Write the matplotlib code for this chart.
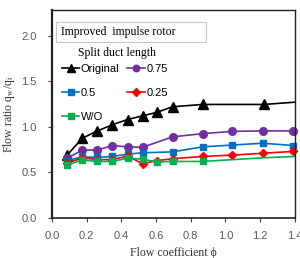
import matplotlib
matplotlib.use("Agg")
import matplotlib.pyplot as plt
from matplotlib.patches import Rectangle

# ---- data ----
x_orig = [0.088, 0.175, 0.257, 0.344, 0.436, 0.522, 0.607, 0.695, 0.868, 1.221, 1.40]
y_orig = [0.69, 0.875, 0.95, 1.02, 1.08, 1.12, 1.16, 1.22, 1.245, 1.245, 1.27]

x_075 = [0.088, 0.175, 0.262, 0.349, 0.436, 0.522, 0.695, 0.868, 1.040, 1.215, 1.39]
y_075 = [0.655, 0.745, 0.745, 0.795, 0.78, 0.775, 0.89, 0.925, 0.95, 0.955, 0.955]

x_05 = [0.088, 0.175, 0.262, 0.349, 0.436, 0.522, 0.695, 0.868, 1.040, 1.215, 1.39]
y_05 = [0.63, 0.67, 0.665, 0.675, 0.70, 0.715, 0.725, 0.78, 0.80, 0.82, 0.795]

x_025 = [0.088, 0.175, 0.262, 0.349, 0.436, 0.522, 0.607, 0.695, 0.868, 1.040, 1.215, 1.39]
y_025 = [0.60, 0.66, 0.64, 0.64, 0.68, 0.595, 0.63, 0.65, 0.675, 0.69, 0.71, 0.73]

x_wo = [0.088, 0.175, 0.262, 0.349, 0.436, 0.522, 0.607, 0.695, 0.868, 1.040, 1.215, 1.40]
y_wo = [0.58, 0.637, 0.62, 0.62, 0.656, 0.645, 0.615, 0.62, 0.62, 0.64, 0.66, 0.675]

series_labels = ["Original", "0.75", "0.5", "0.25", "W/O"]
x_ticks = [0.0, 0.2, 0.4, 0.6, 0.8, 1.0, 1.2, 1.4]
y_ticks = [0.0, 0.5, 1.0, 1.5, 2.0]

plt.rcParams['mathtext.fontset'] = 'stix'
serif = ['Liberation Serif', 'DejaVu Serif']
sans = ['Liberation Sans', 'DejaVu Sans']

fig = plt.figure(figsize=(3.0, 2.58), dpi=100)
ax = fig.add_axes([0.173, 0.155, 0.81, 0.806])

lw = 1.2
h_orig, = ax.plot(x_orig, y_orig, color='black', lw=lw, marker='^', ms=6.5,
                  markevery=list(range(len(x_orig) - 1)), label=series_labels[0])
h_075, = ax.plot(x_075, y_075, color='#7030A0', lw=lw, marker='o', ms=5.5,
                 label=series_labels[1], clip_on=False)
h_05, = ax.plot(x_05, y_05, color='#0070C0', lw=lw, marker='s', ms=5,
                label=series_labels[2], clip_on=False)
h_025, = ax.plot(x_025, y_025, color='#FF0000', lw=lw, marker='D', ms=4.5,
                 label=series_labels[3], clip_on=False)
h_wo, = ax.plot(x_wo, y_wo, color='#00B050', lw=lw, marker='s', ms=5,
                markevery=list(range(len(x_wo) - 3)), label=series_labels[4])

ax.set_xlim(0, 1.4)
ax.set_ylim(0, 2.28)
ax.set_xticks(x_ticks)
ax.set_yticks(y_ticks)
ax.set_xticklabels([f"{v:.1f}" for v in x_ticks])
ax.set_yticklabels([f"{v:.1f}" for v in y_ticks])
ax.tick_params(axis='both', labelsize=8, labelcolor='#595959', length=3,
               width=0.8, color='#404040')
ax.tick_params(axis='y', pad=8)
ax.tick_params(axis='x', pad=6)
for lab in ax.get_xticklabels() + ax.get_yticklabels():
    lab.set_family(sans)
for s in ax.spines.values():
    s.set_linewidth(1.0)
    s.set_color('#222222')
ax.spines['left'].set_linewidth(1.6)
ax.spines['bottom'].set_linewidth(1.2)

ax.set_xlabel("Flow coefficient \u03d5", family=serif, fontsize=8.5, labelpad=5,
              color='#333333')
ax.set_ylabel(r"Flow ratio q$_\mathrm{w}$/q$_\mathrm{i}$", family=serif, fontsize=8.5,
              labelpad=3, color='#333333')

# text box
ax.add_patch(Rectangle((0.015, 0.846), 0.619, 0.096, transform=ax.transAxes,
                       facecolor='white', edgecolor='#c8c8c8', lw=0.8, zorder=5))
ax.text(0.037, 0.894, "Improved  impulse rotor", transform=ax.transAxes,
        family=serif, fontsize=8.5, va='center', ha='left', zorder=6)

ax.text(0.268, 0.795, "Split duct length", transform=ax.transAxes,
        family=serif, fontsize=8.5, va='center', ha='center')

leg = ax.legend(handles=[h_orig, h_05, h_wo, h_075, h_025], ncol=2,
                frameon=False, loc='upper left', bbox_to_anchor=(0.04, 0.74),
                prop={'family': sans, 'size': 8}, handlelength=1.6,
                handletextpad=0.1, columnspacing=0.75, labelspacing=1.25,
                borderpad=0.0, borderaxespad=0.0, markerscale=0.85)

fig.savefig("out.png", dpi=100)
